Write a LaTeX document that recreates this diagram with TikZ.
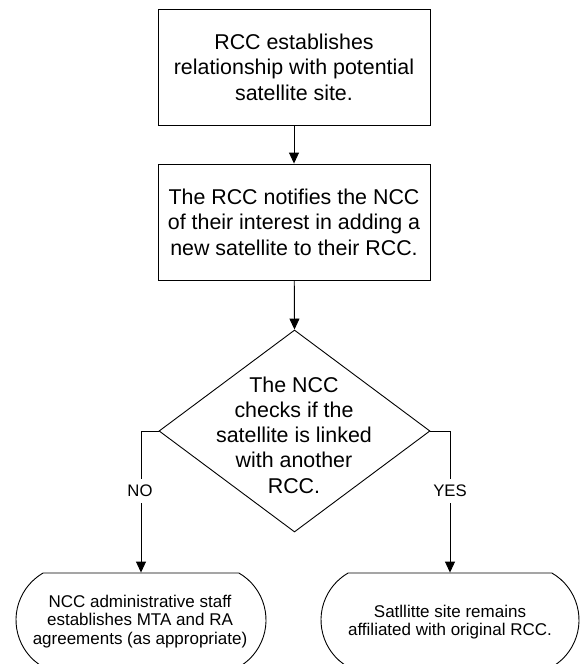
\documentclass[tikz,border=0pt]{standalone}
\usepackage{fontspec}
\setmainfont{Liberation Sans}
\usetikzlibrary{arrows.meta,shapes.geometric,shapes.misc}
\begin{document}
\begin{tikzpicture}[x=1pt,y=-1pt, line width=0.9pt,
  box/.style={draw, minimum width=272pt, minimum height=116pt,
    inner sep=0pt, align=center, font=\fontsize{21.4}{25.5}\selectfont},
  decision/.style={draw, diamond, minimum width=271pt,
    minimum height=202pt, inner sep=0pt},
  dtext/.style={inner sep=0pt, align=center, font=\fontsize{21.4}{25.2}\selectfont},
  terminal/.style={draw, rounded rectangle, rounded rectangle arc length=120,
    minimum height=94pt, inner sep=0pt},
  ttext/.style={inner sep=0pt, align=center, font=\fontsize{17}{18.6}\selectfont},
  lbl/.style={fill=white, inner xsep=1pt, inner ysep=6pt, text depth=0pt,
    font=\fontsize{16.7}{19}\selectfont},
  arr/.style={-{Triangle[length=11pt,width=10pt]}}
]
\useasboundingbox (0,0) rectangle (582,664);
\clip (0,0) rectangle (582,664);

\node[box] (b1) at (294,67) {RCC establishes\\relationship with potential\\satellite site.};
\node[box] (b2) at (294,222) {The RCC notifies the NCC\\of their interest in adding a\\new satellite to their RCC.};
\node[decision] (d) at (294.5,431) {};
\node[dtext] (dt) at (294,435) {The NCC\\checks if the\\satellite is linked\\with another\\RCC.};

\node[terminal, minimum width=250pt] (tl) at (141,620) {};
\node[ttext] (tlt) at (140,621.5) {NCC administrative staff\\establishes MTA and RA\\agreements (as appropriate)};
\node[terminal, minimum width=258pt] (tr) at (450,620) {};
\node[ttext] (trt) at (450,622) {Satllitte site remains\\affiliated with original RCC.};

\draw[arr] (b1) -- (b2);
\draw[arr] (b2) -- (d.north);
\draw[arr] (d.west) -| (tl.north);
\draw[arr] (d.east) -| (tr.north);

\node[lbl] (no) at (140,491) {NO};
\node[lbl] (yes) at (450,491) {YES};
\end{tikzpicture}
\end{document}
